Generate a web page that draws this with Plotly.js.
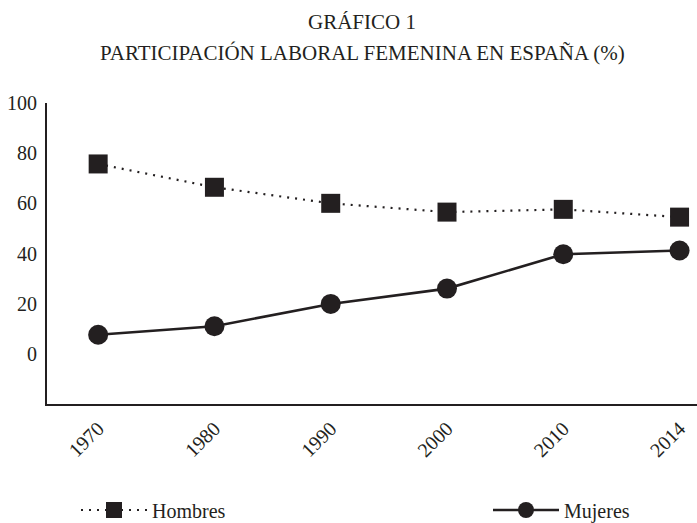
<!DOCTYPE html>
<html>
<head>
<meta charset="utf-8">
<script src="https://cdn.plot.ly/plotly-3.0.1.min.js"></script>
<style>html,body{margin:0;padding:0;background:#fff;}#chart{width:697px;height:523px;}</style>
</head>
<body>
<div id="chart"></div>
<script>
const years = ['1970', '1980', '1990', '2000', '2010', '2014'];
const hombres = [75.7, 66.4, 60.0, 56.5, 57.6, 54.5];
const mujeres = [7.6, 11.0, 19.9, 26.0, 39.7, 41.2];
const yTicks = [0, 20, 40, 60, 80, 100];

const ink = '#231f20';
const serif = 'Liberation Serif, Times New Roman, serif';

const traces = [
  {
    x: years, y: hombres, name: 'Hombres', type: 'scatter', mode: 'lines+markers',
    line: {color: ink, width: 2.2, dash: '2px,6px'},
    marker: {symbol: 'square', size: 19, color: ink},
    legend: 'legend'
  },
  {
    x: years, y: mujeres, name: 'Mujeres', type: 'scatter', mode: 'lines+markers',
    line: {color: ink, width: 2.6},
    marker: {symbol: 'circle', size: 20, color: ink},
    legend: 'legend2'
  }
];

const legendBase = {
  orientation: 'h', xanchor: 'left', y: (404 - 510) / 301, yanchor: 'middle',
  itemwidth: 66, font: {family: serif, size: 20, color: ink}, bgcolor: 'rgba(0,0,0,0)'
};

const titleCenter = 362;

const layout = {
  width: 697, height: 523,
  margin: {l: 47, r: 0, t: 103, b: 119, autoexpand: false},
  paper_bgcolor: '#fff', plot_bgcolor: '#fff',
  font: {family: serif, color: ink, size: 20},
  title: {text: 'GRÁFICO 1', xref: 'paper', x: (titleCenter - 47) / 650, xanchor: 'center',
          y: 1 - 22/523, yanchor: 'middle',
          font: {family: serif, size: 21, color: ink}},
  annotations: [{
    text: 'PARTICIPACIÓN LABORAL FEMENINA EN ESPAÑA (%)', xref: 'paper', yref: 'paper',
    x: (titleCenter - 47) / 650, xanchor: 'center', y: (404 - 53) / 301, yanchor: 'middle', showarrow: false,
    font: {family: serif, size: 21, color: ink}
  }],
  xaxis: {
    type: 'category', range: [-0.44, 5.15],
    showline: true, linecolor: ink, linewidth: 2, showgrid: false, zeroline: false,
    ticks: '', tickangle: -45, ticklabelstandoff: 3, tickfont: {family: serif, size: 20, color: ink},
    fixedrange: true
  },
  yaxis: {
    range: [-20, 100], tickvals: yTicks, ticktext: yTicks.map(String),
    showline: true, linecolor: ink, linewidth: 2, showgrid: false, zeroline: false,
    ticks: '', ticklabelstandoff: 4, tickfont: {family: serif, size: 20, color: ink},
    fixedrange: true
  },
  showlegend: true,
  legend: Object.assign({}, legendBase, {x: (76 - 47) / 650}),
  legend2: Object.assign({}, legendBase, {x: (488 - 47) / 650})
};

Plotly.newPlot('chart', traces, layout, {displayModeBar: false, staticPlot: true});
</script>
</body>
</html>
